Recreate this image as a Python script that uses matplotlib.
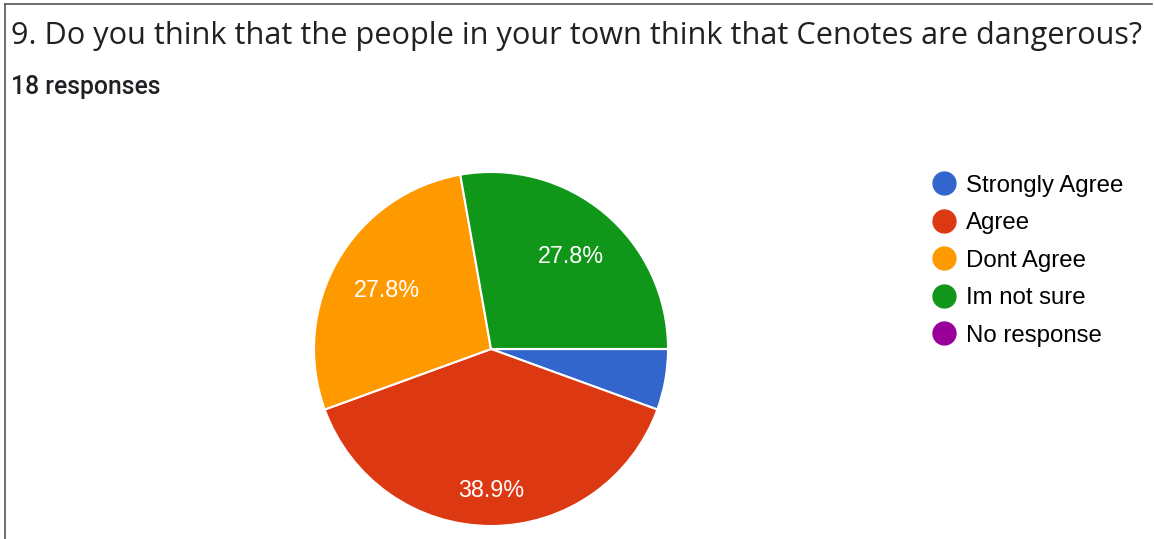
import matplotlib.pyplot as plt
from matplotlib.lines import Line2D

# survey answers, 18 responses in total
answers = ["Strongly Agree", "Agree", "Dont Agree", "Im not sure", "No response"]
counts = [1, 7, 5, 5, 0]
colours = ["#3366cc", "#dc3912", "#ff9900", "#109618", "#990099"]

title = "9. Do you think that the people in your town think that Cenotes are dangerous?"
subtitle = "18 responses"

fig = plt.figure(figsize=(11.54, 5.39), dpi=100)

# thin frame lines on the left and top, like the screenshot
fig.add_artist(Line2D([0.0045, 0.0045], [0, 0.992], color="#555555", lw=1.2))
fig.add_artist(Line2D([0.0045, 0.998], [0.992, 0.992], color="#555555", lw=1.2))

fig.text(0.0095, 0.934, title, fontsize=22.1, family="Open Sans", color="#202124", va="center")
fig.text(0.0095, 0.838, subtitle, fontsize=17.8, family="Roboto", weight="medium", color="#202124", va="center")

ax = fig.add_axes([0.2721, 0.0241, 0.3068, 0.6568])

def pct_label(p):
    if p < 10:
        return ""
    return "%.1f%%" % p

wedges, texts, autotexts = ax.pie(counts, colors=colours, startangle=0, counterclock=False,
                                  autopct=pct_label, pctdistance=0.7,
                                  wedgeprops=dict(edgecolor="white", linewidth=1.5),
                                  textprops=dict(color="white", fontsize=16.8, family="Liberation Sans"))
# google puts the labels a bit differently than matplotlib
autotexts[1].set_position((0, -0.8))
autotexts[2].set_position((-0.59, 0.33))
autotexts[3].set_position((0.45, 0.52))
ax.set_xlim(-1, 1)
ax.set_ylim(-1, 1)
ax.set_aspect("equal")

handles = [Line2D([], [], marker="o", ls="", markersize=16.5, markerfacecolor=c, markeredgecolor=c)
           for c in colours]
fig.legend(handles, answers, loc="upper left", bbox_to_anchor=(0.7968, 0.694), frameon=False,
           prop=dict(family="Liberation Sans", size=17.3), handletextpad=0.35, labelspacing=0.646,
           handlelength=1.2, borderaxespad=0)

fig.savefig("out.png", dpi=100)
